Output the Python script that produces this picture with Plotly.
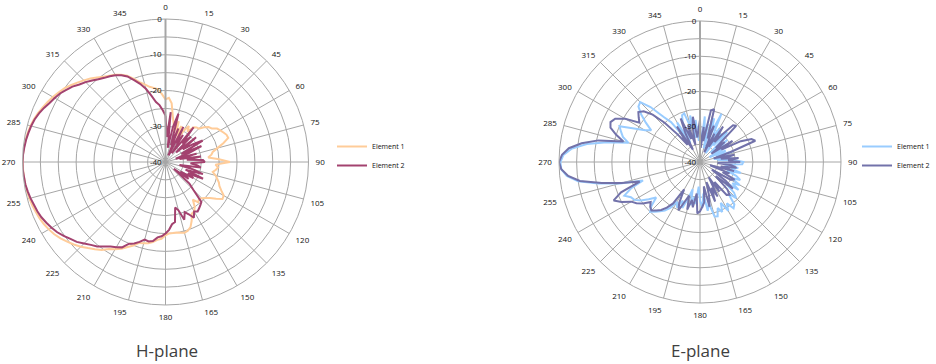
import plotly.graph_objects as go

# ---------------- data ----------------
angles = list(range(0, 360, 3))

h_element1 = [
    -22.5, -22, -23.5, -27, -29, -31, -28, -32, -29, -33,
    -30, -28, -29.5, -27.5, -27, -26.8, -25.5, -24.5, -24, -22.8,
    -22.3, -21.8, -21.3, -21.2, -23, -25, -26.5, -27, -28, -25,
    -22, -26, -25.2, -25.8, -26.5, -25.5, -24.8, -24, -23.5, -22.5,
    -21.2, -21, -22.5, -24, -25, -25.7, -26, -25.5, -27, -25,
    -24, -23.8, -22, -20.5, -19.8, -19.5, -19.8, -20, -20, -20,
    -19.5, -18.5, -18.1, -17.3, -16.8, -16.5, -16.2, -15, -14, -12.8,
    -11.8, -11, -9.6, -8.6, -7.6, -6.5, -5.5, -4.6, -3.7, -2.9,
    -2.3, -1.8, -1.4, -1.1, -0.8, -0.6, -0.4, -0.3, -0.2, -0.1,
    0, -0.1, -0.2, -0.4, -0.6, -0.9, -1.3, -1.8, -2.4, -3,
    -3.6, -4.3, -5, -5.9, -6.8, -7.7, -8.6, -9.6, -10.5, -11.2,
    -11.8, -12.6, -13.6, -15, -16.5, -17.5, -18.5, -19, -19.5, -21,
]

h_element2 = [
    -27, -33, -26, -36, -30, -26, -35, -30, -38, -29,
    -34, -31, -37, -27.5, -33, -30, -36, -29, -34, -31,
    -28, -35, -29, -33, -37, -31, -36, -30, -34, -29.5,
    -29, -33, -31, -30, -36, -32, -29, -34, -28.5, -33,
    -31, -35, -32, -37, -31, -29, -25, -24.5, -24, -23.5,
    -24, -22.5, -24, -25, -23, -26, -27, -23, -22.5, -21,
    -20, -19.2, -18.8, -17.6, -17.3, -17.5, -16.5, -15.6, -15, -13.2,
    -12.5, -11.8, -10.8, -9.6, -8.8, -7.8, -6.6, -5.8, -4.8, -3.9,
    -3.2, -2.6, -2, -1.6, -1.3, -0.9, -0.6, -0.3, -0.2, 0,
    0, -0.1, -0.3, -0.5, -0.8, -1.1, -1.5, -2.1, -2.8, -3.6,
    -4.2, -4.8, -5.7, -6.5, -7.6, -8.4, -9.3, -10.2, -10.9, -11.4,
    -12, -12.8, -13.8, -15.5, -17, -18.8, -21, -23, -24, -25.5,
]

e_element1 = [
    -30, -35, -27, -32, -29, -36, -27, -31, -25, -33,
    -29, -37, -30, -34, -28.5, -32, -36, -30, -33, -35,
    -31, -37, -32, -35, -30, -34, -36, -31, -35, -30,
    -27.7, -28, -33, -29, -31, -28, -32, -29, -27.5, -30,
    -27, -29, -26.5, -31, -27, -25.5, -28, -24.5, -23.8, -26,
    -24, -27, -24.5, -26, -23.8, -24, -28, -26, -31, -27,
    -29, -33, -28, -30, -27.5, -32, -29, -26, -28, -25.5,
    -27, -24.5, -23, -22, -21, -20, -21.5, -24, -22, -20,
    -18.5, -18, -16.5, -19, -23, -16.5, -10.5, -5, -2, -0.6,
    -0.4, -1.2, -3.5, -7.5, -13, -19, -17, -16, -15, -19,
    -22, -23.5, -21, -18.5, -16.5, -16, -19, -23.5, -26, -31,
    -27, -34, -28, -25.8, -25.5, -30, -26.5, -33, -28, -34,
]

e_element2 = [
    -28, -36, -30, -34, -25, -24.5, -33, -29, -37, -31,
    -35, -28, -33, -30, -26, -25.5, -34, -31, -36, -29,
    -33, -27, -24, -23.2, -31, -36, -30, -34, -29, -32,
    -28.6, -35, -31, -29.5, -34, -30, -37, -31, -33, -29,
    -30, -36, -31, -28, -34, -29, -27.5, -28, -33, -30,
    -35, -29, -32, -28, -34, -30, -27, -33, -28.5, -27.3,
    -26, -25.4, -31, -27, -29, -26, -30, -28, -25, -27,
    -31, -26, -24, -22.5, -21.5, -20.5, -21, -22, -20, -18.5,
    -17.5, -15, -13.2, -16, -22, -17, -11.5, -5.5, -2.4, -0.6,
    0, -0.8, -2.6, -6, -10.5, -17.5, -15, -12.8, -12.2, -13,
    -15.5, -19.5, -18.5, -17.5, -18.5, -21, -25, -30, -34, -28,
    -36, -31, -26.5, -33, -29, -35, -30, -27, -33, -31,
]

angle_ticks = list(range(0, 360, 15))
angle_labels = [str(a) for a in angle_ticks]
r_ticks = [-40, -35, -30, -25, -20, -15, -10, -5, 0]
r_labels = ["-40", "", "-30", "", "-20", "", "-10", "", "0"]

series_names = ["Element 1", "Element 2"]
titles = ["H-plane", "E-plane"]

# ---------------- figure ----------------
def closed(vals):
    return vals + [vals[0]]

theta = closed(angles)

fig = go.Figure()

fig.add_trace(go.Scatterpolar(r=closed(h_element1), theta=theta, mode="lines",
                              name=series_names[0], line=dict(color="#FFCC99", width=2),
                              subplot="polar", legend="legend"))
fig.add_trace(go.Scatterpolar(r=closed(h_element2), theta=theta, mode="lines",
                              name=series_names[1], line=dict(color="#A3426F", width=2),
                              subplot="polar", legend="legend"))
fig.add_trace(go.Scatterpolar(r=closed(e_element1), theta=theta, mode="lines",
                              name=series_names[0], line=dict(color="#99CCFF", width=2),
                              subplot="polar2", legend="legend2"))
fig.add_trace(go.Scatterpolar(r=closed(e_element2), theta=theta, mode="lines",
                              name=series_names[1], line=dict(color="#7272AA", width=2),
                              subplot="polar2", legend="legend2"))

grid = "#A6A6A6"
tick_font = dict(family="Open Sans, Noto Sans, sans-serif", size=8, color="#111111")


def polar_cfg(domx, domy):
    return dict(
        domain=dict(x=domx, y=domy),
        bgcolor="white",
        angularaxis=dict(rotation=90, direction="clockwise", tickmode="array",
                         tickvals=angle_ticks, ticktext=angle_labels, tickfont=tick_font,
                         gridcolor=grid, gridwidth=1, showline=True, linecolor=grid,
                         linewidth=1, ticks="outside", ticklen=5,
                         tickcolor="rgba(0,0,0,0)"),
        radialaxis=dict(range=[-40, 0], tickmode="array", tickvals=r_ticks,
                        ticktext=r_labels, angle=90, side="counterclockwise",
                        tickangle=90, tickfont=tick_font, gridcolor=grid, gridwidth=1,
                        showline=True, linecolor="#A6A6A6", linewidth=2, ticks=""),
    )


legend_font = dict(family="Open Sans, Noto Sans, sans-serif", size=7, color="#111111")

fig.update_layout(
    width=936, height=364,
    margin=dict(l=0, r=0, t=0, b=0, autoexpand=False),
    paper_bgcolor="white",
    plot_bgcolor="white",
    polar=polar_cfg([22.5 / 936, 308.5 / 936], [59 / 364, 345 / 364]),
    polar2=polar_cfg([559 / 936, 841 / 936], [61 / 364, 343 / 364]),
    legend=dict(x=332 / 936, y=1 - 132 / 364, xanchor="left", yanchor="top",
                font=legend_font, itemwidth=30, bgcolor="rgba(0,0,0,0)",
                tracegroupgap=0),
    legend2=dict(x=857 / 936, y=1 - 132 / 364, xanchor="left", yanchor="top",
                 font=legend_font, itemwidth=30, bgcolor="rgba(0,0,0,0)",
                 tracegroupgap=0),
    showlegend=True,
    annotations=[
        dict(text=titles[0], x=167 / 936, y=1 - 350 / 364, xref="paper", yref="paper",
             showarrow=False, xanchor="center", yanchor="middle",
             font=dict(family="Open Sans, Noto Sans, sans-serif", size=17, color="#404040")),
        dict(text=titles[1], x=700 / 936, y=1 - 350 / 364, xref="paper", yref="paper",
             showarrow=False, xanchor="center", yanchor="middle",
             font=dict(family="Open Sans, Noto Sans, sans-serif", size=17, color="#404040")),
    ],
)

fig.write_html("out.html", config={"displayModeBar": False},
               post_script="document.body.style.margin='0';document.body.style.overflow='hidden';")
